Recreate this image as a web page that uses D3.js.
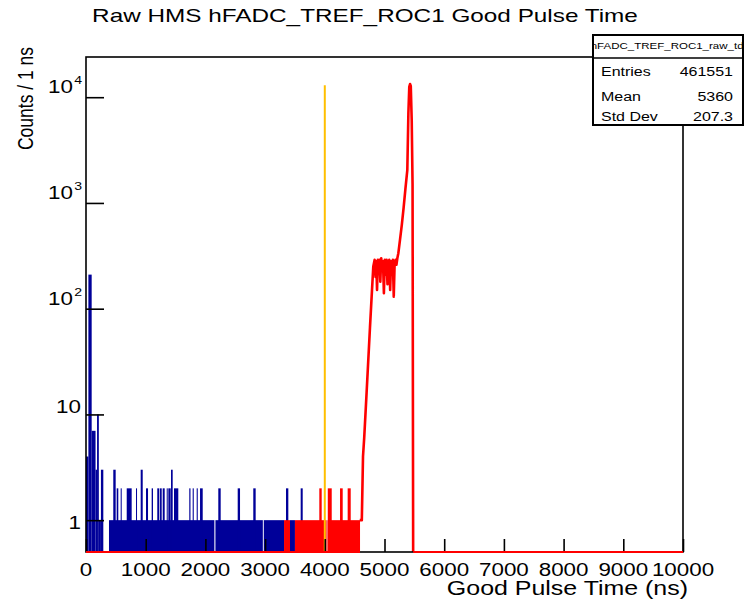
<!DOCTYPE html>
<html><head><meta charset="utf-8">
<script src="https://cdn.jsdelivr.net/npm/d3@7"></script>
<style>body{margin:0;background:#fff}svg{display:block}text{font-family:"Liberation Sans",Arial,sans-serif;fill:#000}</style>
</head><body><svg id="c" width="750" height="601"></svg>
<script>
// ---- data ----
const titleText = "Raw HMS hFADC_TREF_ROC1 Good Pulse Time";
const xTitle = "Good Pulse Time (ns)";
const yTitle = "Counts / 1 ns";
const xTickValues = [0,1000,2000,3000,4000,5000,6000,7000,8000,9000,10000];
const xTickLabels = ["0","1000","2000","3000","4000","5000","6000","7000","8000","9000","10000"];
const yTickValues = [1,10,100,1000,10000];
const yTickBase = ["1","10","10","10","10"];
const yTickExp = ["","","2","3","4"];
const statsName = "hFADC_TREF_ROC1_raw_tdc";
const statsLabels = ["Entries","Mean","Std Dev"];
const statsValues = ["461551","5360","207.3"];
// blue histogram (all hits): [start ns, end ns, counts]
const blueSegs = [
  [0,40,4],[40,95,210],[95,160,7],[160,185,3],[185,215,10],[215,250,1],[250,290,3],
  [385,2150,1],[2168,2962,1],[2978,3317,1],[3417,3500,1],
  [457,497,3],[514,541,2],[581,598,2],[682,765,2],[838,854,2],[916,950,3],[1005,1039,2],
  [1100,1122,2],[1194,1228,2],[1240,1268,2],[1285,1318,2],[1352,1368,2],[1379,1419,2],
  [1424,1452,3],[1474,1546,2],[1730,1750,2],[1787,1805,2],[1854,1872,2],[1910,1955,2],
  [2216,2256,2],[2541,2580,2],[2802,2842,2],[3350,3389,2],[3596,3630,2]
];
// red histogram (selected hits): [start ns, end ns, counts]
const redSegs = [
  [3317,3417,1],[3500,4030,1],[4045,4590,1],
  [3908,3948,2],[4050,4116,2],[4255,4300,2],[4383,4434,2]
];
const redPeakNs = [4585,4620,4640,4660,4700,4757,4812,4835,4850,4862,4875,4888,4900,4915,4930,4945,4960,4975,4990,5005,5020,5035,5050,5065,5080,5095,5110,5125,5140,5155,5170,5185,5200,5215,5232,5260,5290,5320,5350,5382,5400,5415,5428,5440,5456,5470,5480];
const redPeakCounts = [1,1,4,6,16,67,250,290,200,280,150,290,260,290,180,300,250,280,140,290,210,290,170,270,290,150,280,230,290,130,270,290,260,300,335,450,620,900,1350,2040,7000,12500,13300,12800,6000,1500,0.5];
const redZeroRanges = [[0,4590],[5480,10000]];
const cutLineNs = 4000, cutLineTop = 13000;

// ---- layout ----
const S = 1.28; // horizontal text stretch of original canvas
const L = 86, R = 683, T = 57, B = 552;
const svg = d3.select("#c");
const x = d3.scaleLinear().domain([0,10000]).range([L,R]);
const y = d3.scaleLog().domain([0.5,24000]).range([B,T]).clamp(true);
const yc = c => c <= 0 ? B : y(c);

function stext(g, px, py, str, size, anchor, extra){
  return g.append("text").attr("transform",`translate(${px},${py}) scale(${S},1)${extra||""}`)
    .attr("text-anchor",anchor).attr("font-size",size).text(str);
}

const plot = svg.append("g");
// blue
plot.selectAll("rect.b").data(blueSegs).join("rect").attr("class","b")
  .attr("x",d=>x(d[0])).attr("width",d=>Math.max(1,x(d[1])-x(d[0])))
  .attr("y",d=>yc(d[2])).attr("height",d=>B-yc(d[2])).attr("fill","#000099");
// red
plot.selectAll("rect.r").data(redSegs).join("rect").attr("class","r")
  .attr("x",d=>x(d[0])).attr("width",d=>Math.max(1,x(d[1])-x(d[0])))
  .attr("y",d=>yc(d[2])).attr("height",d=>B-yc(d[2])).attr("fill","#ff0000");
const peak = redPeakNs.map((n,i)=>[n,redPeakCounts[i]]);
plot.append("path").datum(peak)
  .attr("d",d3.line().x(d=>x(d[0])).y(d=>yc(d[1])))
  .attr("fill","none").attr("stroke","#ff0000").attr("stroke-width",2.6).attr("stroke-linejoin","round");
// cut line
plot.append("line").attr("x1",x(cutLineNs)).attr("x2",x(cutLineNs)).attr("y1",B).attr("y2",y(cutLineTop))
  .attr("stroke","#ffbf00").attr("stroke-width",2);

// axes ticks
const minorX = d3.range(0,10001,200).filter(v=>v%1000!==0);
const gx = svg.append("g").attr("transform",`translate(0,${B})`);
gx.call(d3.axisBottom(x).tickValues(minorX).tickSize(-6).tickFormat(""));
gx.call(d3.axisBottom(x).tickValues(xTickValues).tickSize(-13).tickFormat(""));
gx.selectAll("path.domain").remove();
gx.selectAll("line").attr("stroke","#000").attr("stroke-width",1.6);
const minorY = [];
[0.1,1,10,100,1000,10000].forEach(d=>{for(let k=2;k<=9;k++){const v=d*k; if(v>=0.5&&v<=24000) minorY.push(v);} });
const gy = svg.append("g").attr("transform",`translate(${L},0)`);
gy.call(d3.axisLeft(y).tickValues(minorY).tickSize(-8).tickFormat(""));
gy.call(d3.axisLeft(y).tickValues(yTickValues).tickSize(-18).tickFormat(""));
gy.selectAll("path.domain").remove();
gy.selectAll("line").attr("stroke","#000").attr("stroke-width",1.6);

// frame
svg.append("rect").attr("x",L).attr("y",T).attr("width",R-L).attr("height",B-T)
  .attr("fill","none").attr("stroke","#000").attr("stroke-width",1.6);
// red zero line
redZeroRanges.forEach(r=>svg.append("line").attr("x1",x(r[0])).attr("x2",x(r[1])).attr("y1",B).attr("y2",B)
  .attr("stroke","#ff0000").attr("stroke-width",2.2));

// tick labels
const lab = svg.append("g");
xTickValues.forEach((v,i)=>stext(lab,x(v),576,xTickLabels[i],17.5,"middle"));
yTickValues.forEach((v,i)=>{
  const ty = y(v);
  if(!yTickExp[i]){
    stext(lab,81,(i===0?ty+9:ty-1),yTickBase[i],17.5,"end");
  } else {
    stext(lab,73,ty-4,yTickBase[i],17.5,"end");
    stext(lab,82,ty-13,yTickExp[i],11,"end");
  }
});
// titles
stext(svg,365,21.5,titleText,19,"middle");
stext(svg,688,595,xTitle,19.5,"end");
svg.append("text").attr("transform",`translate(33,47) scale(${S},1) rotate(-90)`)
  .attr("text-anchor","end").attr("font-size",17.5).text(yTitle);

// stats box
const bx=593, by=35, bw=150, bh=90;
const st = svg.append("g");
st.append("clipPath").attr("id","sc").append("rect").attr("x",bx).attr("y",by).attr("width",bw).attr("height",bh);
st.append("rect").attr("x",bx).attr("y",by).attr("width",bw).attr("height",bh).attr("fill","#fff")
  .attr("stroke","#000").attr("stroke-width",2);
stext(st.append("g").attr("clip-path","url(#sc)"),bx+bw/2+2,48.5,statsName,9,"middle");
st.append("line").attr("x1",bx).attr("x2",bx+bw).attr("y1",58).attr("y2",58).attr("stroke","#000").attr("stroke-width",1.6);
const rowY=[75.5,100.5,120.5];
statsLabels.forEach((s,i)=>{
  stext(st,bx+8,rowY[i],s,12.5,"start");
  stext(st,bx+bw-10,rowY[i],statsValues[i],12.5,"end");
});
</script></body></html>
